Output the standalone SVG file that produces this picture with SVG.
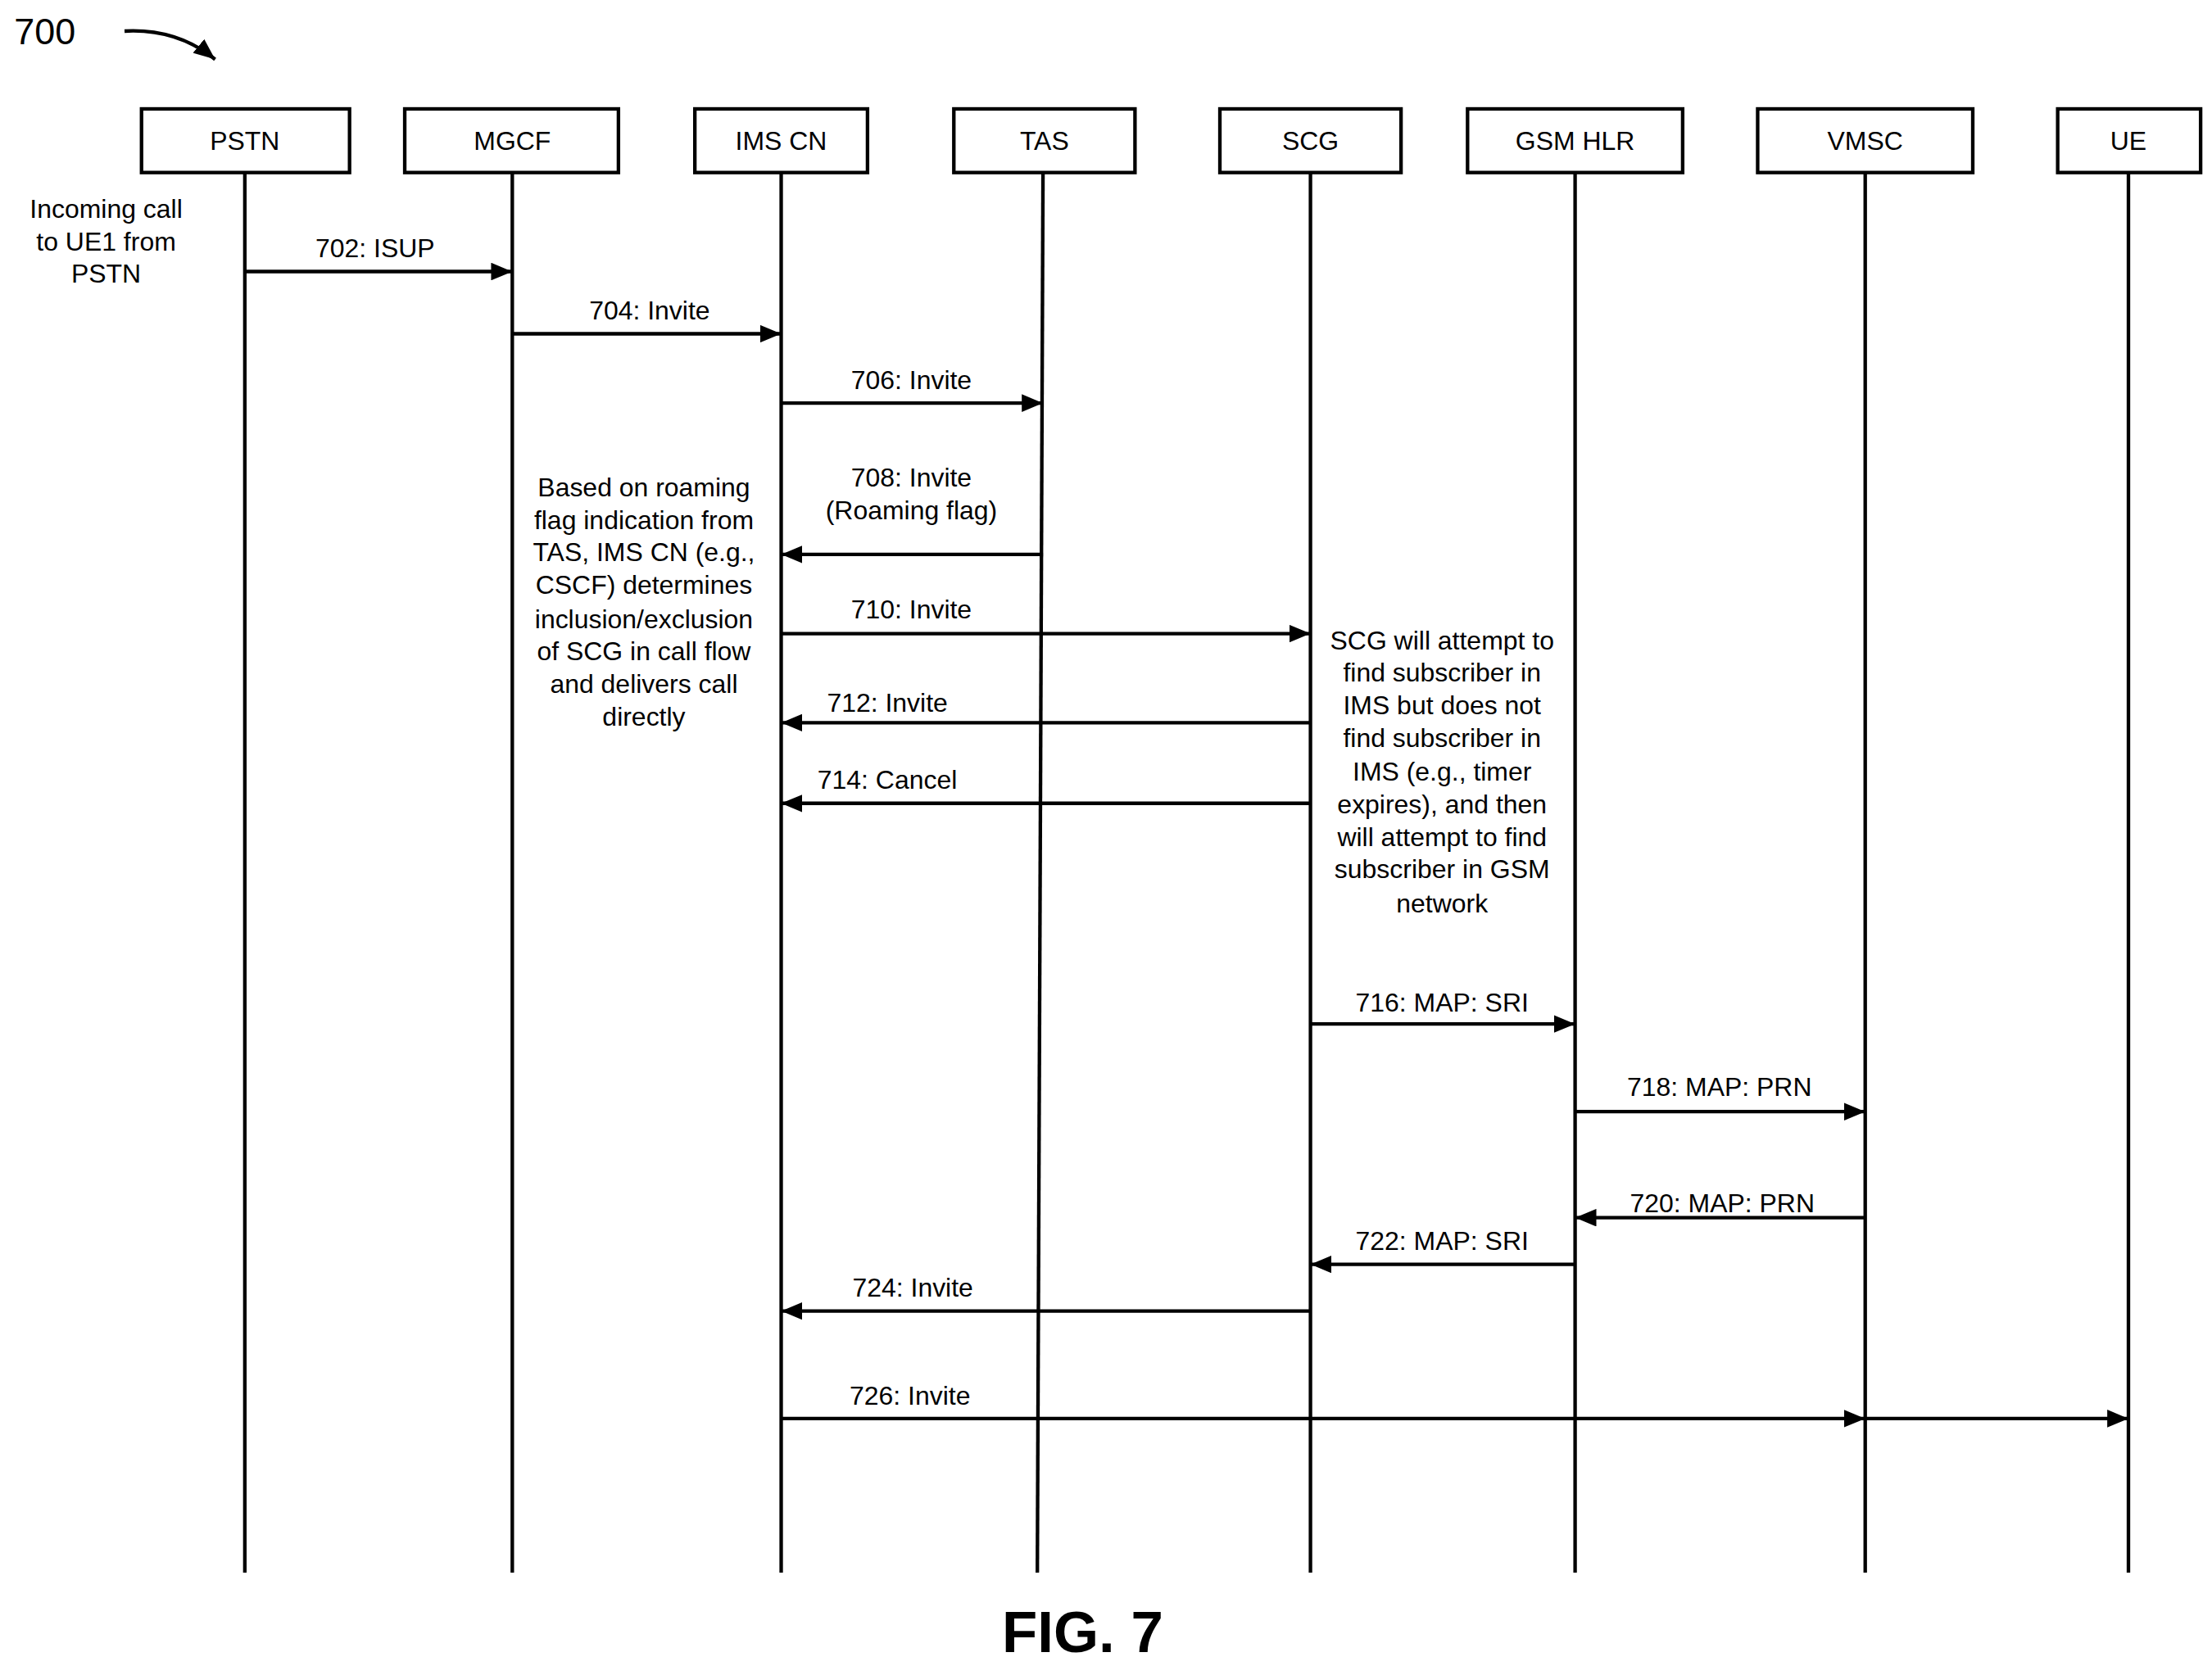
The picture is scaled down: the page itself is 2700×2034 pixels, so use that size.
<svg xmlns="http://www.w3.org/2000/svg" width="2700" height="2034" viewBox="0 0 2700 2034">
<style>
.box{fill:#fff;stroke:#000;stroke-width:2.5}
.ll{stroke:#000;stroke-width:2.5}
.msg{stroke:#000;stroke-width:2.5;fill:none;marker-end:url(#ah)}
text{font-family:"Liberation Sans",Arial,sans-serif;font-size:18.5px;fill:#000;text-anchor:middle}
</style>
<defs><marker id="ah" markerWidth="6" markerHeight="5" refX="6" refY="2.5" orient="auto" markerUnits="strokeWidth"><path d="M0,0L6,2.5L0,5Z" fill="#000"/></marker></defs>
<rect width="2700" height="2034" fill="#fff"/>
<g transform="scale(1.7274,1.7267)">
<text x="10" y="31" style="text-anchor:start;font-size:26px">700</text>
<path d="M88,22 Q125,20 152,42" class="msg" stroke-width="2.5"/>
<g id="PSTN"><rect class="box" x="100" y="77" width="147" height="45"/><text x="173" y="106">PSTN</text><line class="ll" x1="173" y1="122" x2="173" y2="1112"/></g>
<g id="MGCF"><rect class="box" x="286" y="77" width="151" height="45"/><text x="362" y="106">MGCF</text><line class="ll" x1="362" y1="122" x2="362" y2="1112"/></g>
<g id="IMSCN"><rect class="box" x="491" y="77" width="122" height="45"/><text x="552" y="106">IMS CN</text><line class="ll" x1="552" y1="122" x2="552" y2="1112"/></g>
<g id="TAS"><rect class="box" x="674" y="77" width="128" height="45"/><text x="738" y="106">TAS</text><line class="ll" x1="737" y1="122" x2="733" y2="1112"/></g>
<g id="SCG"><rect class="box" x="862" y="77" width="128" height="45"/><text x="926" y="106">SCG</text><line class="ll" x1="926" y1="122" x2="926" y2="1112"/></g>
<g id="GSMHLR"><rect class="box" x="1037" y="77" width="152" height="45"/><text x="1113" y="106">GSM HLR</text><line class="ll" x1="1113" y1="122" x2="1113" y2="1112"/></g>
<g id="VMSC"><rect class="box" x="1242" y="77" width="152" height="45"/><text x="1318" y="106">VMSC</text><line class="ll" x1="1318" y1="122" x2="1318" y2="1112"/></g>
<g id="UE"><rect class="box" x="1454" y="77" width="101" height="45"/><text x="1504" y="106">UE</text><line class="ll" x1="1504" y1="122" x2="1504" y2="1112"/></g>
<g id="connectors">
<line class="msg" x1="173" y1="192" x2="362" y2="192"/>
<line class="msg" x1="362" y1="236" x2="552" y2="236"/>
<line class="msg" x1="552" y1="285" x2="737" y2="285"/>
<line class="msg" x1="737" y1="392" x2="552" y2="392"/>
<line class="msg" x1="552" y1="448" x2="926" y2="448"/>
<line class="msg" x1="926" y1="511" x2="552" y2="511"/>
<line class="msg" x1="926" y1="568" x2="552" y2="568"/>
<line class="msg" x1="926" y1="724" x2="1113" y2="724"/>
<line class="msg" x1="1113" y1="786" x2="1318" y2="786"/>
<line class="msg" x1="1318" y1="861" x2="1113" y2="861"/>
<line class="msg" x1="1113" y1="894" x2="926" y2="894"/>
<line class="msg" x1="926" y1="927" x2="552" y2="927"/>
<line class="msg" x1="552" y1="1003" x2="1318" y2="1003"/>
<line class="msg" x1="1318" y1="1003" x2="1504" y2="1003"/>
</g>
<g id="labels">
<text x="265" y="182">702: ISUP</text>
<text x="459" y="226">704: Invite</text>
<text x="644" y="275">706: Invite</text>
<text x="644" y="344">708: Invite</text>
<text x="644" y="367">(Roaming flag)</text>
<text x="644" y="437">710: Invite</text>
<text x="627" y="503">712: Invite</text>
<text x="627" y="558">714: Cancel</text>
<text x="1019" y="715">716: MAP: SRI</text>
<text x="1215" y="775">718: MAP: PRN</text>
<text x="1217" y="857">720: MAP: PRN</text>
<text x="1019" y="884">722: MAP: SRI</text>
<text x="645" y="917">724: Invite</text>
<text x="643" y="993">726: Invite</text>
</g>
<g id="notes">
<text x="75" y="154">Incoming call</text><text x="75" y="177">to UE1 from</text><text x="75" y="200">PSTN</text>
<text x="455" y="351">Based on roaming</text><text x="455" y="374">flag indication from</text><text x="455" y="397">TAS, IMS CN (e.g.,</text><text x="455" y="420">CSCF) determines</text><text x="455" y="444">inclusion/exclusion</text><text x="455" y="467">of SCG in call flow</text><text x="455" y="490">and delivers call</text><text x="455" y="513">directly</text>
<text x="1019" y="459">SCG will attempt to</text><text x="1019" y="482">find subscriber in</text><text x="1019" y="505">IMS but does not</text><text x="1019" y="528">find subscriber in</text><text x="1019" y="552">IMS (e.g., timer</text><text x="1019" y="575">expires), and then</text><text x="1019" y="598">will attempt to find</text><text x="1019" y="621">subscriber in GSM</text><text x="1019" y="645">network</text>
</g>
<text x="765" y="1168" style="font-size:41px;font-weight:bold">FIG. 7</text>
</g>
</svg>
